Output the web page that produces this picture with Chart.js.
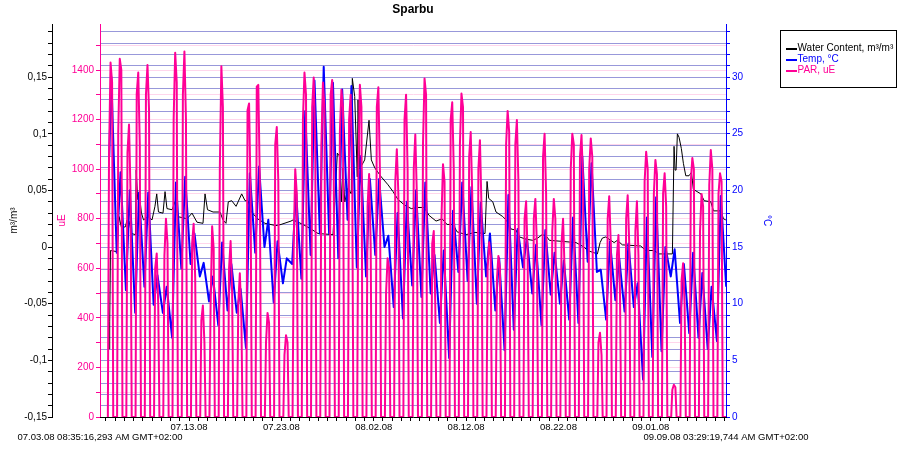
<!DOCTYPE html>
<html>
<head>
<meta charset="utf-8">
<title>Sparbu</title>
<script src="https://cdn.jsdelivr.net/npm/chart.js@4.4.1/dist/chart.umd.min.js"></script>
<style>
  html, body { margin: 0; padding: 0; background: #fff; }
</style>
</head>
<body>
<canvas id="sparbuChart" width="907" height="451"></canvas>
<script>
// x values are days counted from 06.30.08 00:00, so 07.13.08 00:00 = 13
const xStart = 3.3578;   // 07.03.08 08:35:16,293
const xEnd = 71.1454;    // 09.09.08 03:29:19,744
const startLabel = '07.03.08 08:35:16,293 AM GMT+02:00';
const endLabel = '09.09.08 03:29:19,744 AM GMT+02:00';

const xLabelDays = [13, 23, 33, 43, 53, 63];
const xLabels = ['07.13.08', '07.23.08', '08.02.08', '08.12.08', '08.22.08', '09.01.08'];

// one entry per day, 07.04 .. 09.08
const days = [4, 5, 6, 7, 8, 9, 10, 11, 12, 13, 14, 15, 16, 17, 18, 19, 20, 21, 22, 23, 24, 25, 26, 27,
  28, 29, 30, 31, 32, 33, 34, 35, 36, 37, 38, 39, 40, 41, 42, 43, 44, 45, 46, 47, 48, 49, 50, 51,
  52, 53, 54, 55, 56, 57, 58, 59, 60, 61, 62, 63, 64, 65, 66, 67, 68, 69, 70];

// PAR, uE : readings at the hours below (night = 0)
const parHours = [5, 8, 12, 16, 19];
const parAm = [1050, 1150, 1066, 1303, 1300, 600, 650, 1200, 1300, 700, 390, 450, 1000, 600, 460, 1238,
  1333, 300, 1100, 250, 700, 1200, 1250, 1100, 1300, 1150, 1200, 1000, 850, 1250, 500, 950, 1200, 1000,
  1100, 700, 800, 1200, 1100, 1050, 1000, 600, 550, 1100, 1100, 800, 800, 1050, 750, 700, 1000, 1050,
  1000, 300, 800, 650, 800, 750, 950, 900, 900, 110, 550, 950, 750, 936, 900];
const parPeak = [1430, 1445, 1180, 1390, 1420, 660, 800, 1470, 1475, 780, 450, 770, 1415, 710, 580, 1265,
  1340, 420, 1170, 330, 1000, 1390, 1370, 1350, 1360, 1320, 1300, 1340, 980, 1330, 640, 1080, 1300, 1140,
  1366, 750, 1020, 1270, 1305, 1150, 1117, 705, 650, 1235, 1198, 870, 880, 1143, 880, 800, 1143, 1138,
  1124, 340, 891, 734, 895, 870, 1070, 1037, 983, 130, 620, 1045, 900, 1077, 983];
const parPm = [1350, 1400, 900, 1100, 1240, 450, 700, 1350, 1200, 560, 300, 680, 1250, 500, 400, 900,
  950, 380, 950, 300, 900, 1300, 1100, 1250, 1000, 1250, 1000, 1250, 700, 1000, 600, 900, 1000, 900,
  1300, 450, 950, 1000, 1250, 900, 850, 650, 600, 1150, 950, 650, 700, 900, 800, 600, 1100, 950,
  1050, 250, 700, 500, 700, 650, 1000, 980, 850, 120, 450, 1000, 850, 1000, 950];

// Temp, °C : daily maximum (~14:00) and following night minimum (~04:00)
const tempFirst = { x: 4.36, y: 23 };
const tempMax = [30, 21.6, 20, 19.8, 19.8, 12.5, 11.5, 20.7, 21.2, 16.2, 13.6, 12.4, 15.4, 13.5, 11.3, 21.5,
  22.1, 17.4, 15.5, 14, 20, 27, 29.7, 30.9, 29.5, 28.9, 29.2, 23, 21, 21, 16, 18, 19, 20, 20.7, 14.3,
  14.7, 18.2, 20.7, 20.3, 18.9, 16.2, 14, 19.6, 16.6, 15.8, 15.2, 16.5, 14.5, 13.8, 17.6, 23, 22.4, 13,
  15.5, 14, 15.3, 11.8, 17.6, 19.4, 15, 14.8, 13.5, 14.5, 12.7, 11.5, 19.5];
const tempMin = [14.5, 11.2, 9.2, 11.5, 9.9, 9.2, 7.0, 13.1, 13.5, 12.4, 10.2, 8.1, 9.4, 9.2, 6.1, 14.5,
  15, 10.1, 11.8, 13.5, 12.2, 14.3, 16.2, 16.2, 14, 17.4, 13.2, 12.4, 14.3, 15, 9.7, 8.7, 11.6, 10.6,
  10.9, 8.3, 5.2, 12.8, 12, 10, 12.4, 9.4, 5.9, 7.7, 13.2, 10.9, 8.1, 10.8, 10, 8.6, 8.3, 13.7, 12.8,
  8.6, 10.3, 9.3, 9.7, 3.3, 5.3, 5.8, 12.4, 8.3, 7.4, 7, 6, 6.7, 11.5];

// Water Content, m³/m³
const wcDay = [4.37, 4.41, 4.49, 5.20, 5.42, 5.69, 6.12, 6.28, 6.50, 6.77, 7.20, 7.28, 7.44, 7.64, 7.85,
  8.07, 8.56, 8.99, 9.31, 9.50, 9.69, 10.18, 10.40, 10.61, 11.16, 11.48, 11.75, 12.78, 13.32, 13.86,
  14.51, 14.73, 15.00, 15.60, 16.35, 16.68, 17.00, 17.25, 17.62, 18.09, 18.70, 19.06, 19.39, 19.77,
  20.42, 21.23, 22.42, 22.96, 24.04, 24.26, 24.80, 25.34, 26.21, 26.97, 28.59, 28.78, 29.06, 29.32,
  29.49, 29.67, 29.86, 30.22, 30.57, 30.68, 30.94, 31.22, 31.30, 31.48, 32.02, 32.49, 32.74, 33.11,
  33.82, 34.55, 35.09, 35.63, 36.36, 37.07, 37.80, 38.45, 38.99, 39.75, 40.40, 40.94, 41.59, 42.02,
  43.00, 43.97, 45.05, 45.27, 45.45, 45.89, 46.24, 46.97, 47.33, 47.87, 48.41, 48.77, 49.49, 50.22,
  50.76, 51.23, 51.66, 52.02, 53.47, 54.91, 55.78, 56.14, 56.86, 57.22, 57.51, 57.76, 58.13, 58.67,
  59.03, 59.38, 59.92, 61.91, 62.45, 63.36, 63.90, 65.34, 65.52, 65.63, 65.74, 65.88, 66.06, 66.31,
  66.53, 66.79, 67.14, 67.40, 67.61, 68.42, 68.78, 69.50, 69.79, 70.59, 70.87, 71.13];
const wcVal = [-0.09, -0.066, -0.003, -0.004, 0.027, 0.017, 0.018, 0.024, 0.023, 0.012, 0.011, 0.068, 0.042,
  0.045, 0.03, 0.024, 0.027, 0.024, 0.036, 0.047, 0.031, 0.03, 0.049, 0.034, 0.033, 0.04, 0.027, 0.025,
  0.03, 0.022, 0.021, 0.047, 0.033, 0.031, 0.031, 0.024, 0.021, 0.04, 0.041, 0.036, 0.047, 0.041, 0.041,
  0.031, 0.025, 0.021, 0.019, 0.02, 0.023, 0.024, 0.022, 0.02, 0.016, 0.012, 0.011, 0.04, 0.083, 0.08,
  0.04, 0.07, 0.04, 0.052, 0.047, 0.149, 0.133, 0.062, 0.13, 0.069, 0.077, 0.112, 0.077, 0.07,
  0.062, 0.055, 0.049, 0.042, 0.037, 0.034, 0.035, 0.035, 0.028, 0.023, 0.025, 0.02, 0.02, 0.0135,
  0.011, 0.013, 0.012, 0.058, 0.043, 0.04, 0.031, 0.027, 0.024, 0.016, 0.015, 0.009, 0.007, 0.006,
  0.008, 0.011, 0.01, 0.006, 0.005, 0.004, 0.0, -0.003, -0.005, -0.006, 0.004, 0.008, 0.009, 0.006,
  0.004, 0.006, 0.002, 0.001, -0.003, -0.003, -0.006, -0.006, 0.089, 0.068, 0.068, 0.1, 0.097, 0.087,
  0.074, 0.063, 0.063, 0.066, 0.051, 0.047, 0.041, 0.04, 0.032, 0.032, 0.025, 0.024];

const pink = 'rgb(255,0,150)';
const blue = '#0000ff';
const fontFamily = '"Liberation Sans", Arial, sans-serif';
Chart.defaults.font.family = fontFamily;

// build point lists
const parPoints = [];
days.forEach((d, i) => {
  const vals = [0, parAm[i], parPeak[i], parPm[i], 0];
  parHours.forEach((h, j) => parPoints.push({ x: d + h / 24, y: vals[j] }));
});
parPoints.push({ x: xEnd, y: 0 });

const tempPoints = [tempFirst];
days.forEach((d, i) => {
  tempPoints.push({ x: d + 14 / 24, y: tempMax[i] });
  tempPoints.push({ x: d + 1 + 4 / 24, y: tempMin[i] });
});

const wcPoints = wcDay.map((d, i) => ({ x: d, y: wcVal[i] }));

function makeTicks(from, to, step, div) {
  const out = [];
  for (let k = from; k <= to; k += step) out.push({ value: k / div });
  return out;
}

const cornerLabels = {
  id: 'cornerLabels',
  afterDraw(chart) {
    const ctx = chart.ctx;
    const a = chart.chartArea;
    ctx.save();
    ctx.font = '9.5px ' + fontFamily;
    ctx.fillStyle = '#000';
    ctx.textAlign = 'center';
    ctx.textBaseline = 'middle';
    ctx.fillText(startLabel, a.left, 437);
    ctx.fillText(endLabel, a.right, 437);
    ctx.restore();
  }
};

const boxLegend = {
  id: 'boxLegend',
  afterDraw(chart) {
    const ctx = chart.ctx;
    ctx.save();
    ctx.fillStyle = '#fff';
    ctx.fillRect(780.5, 30.5, 116, 57);
    ctx.strokeStyle = '#000';
    ctx.lineWidth = 1;
    ctx.strokeRect(780.5, 30.5, 116, 57);
    ctx.font = '10px ' + fontFamily;
    ctx.textBaseline = 'middle';
    ctx.textAlign = 'left';
    chart.data.datasets.forEach((ds, i) => {
      const y = 49 + i * 11;
      ctx.strokeStyle = ds.borderColor;
      ctx.lineWidth = 2;
      ctx.beginPath();
      ctx.moveTo(786, y);
      ctx.lineTo(797, y);
      ctx.stroke();
      ctx.fillStyle = ds.borderColor;
      ctx.fillText(ds.label, 797.5, y - 0.5);
    });
    ctx.restore();
  }
};

const tickFont = { size: 10, family: fontFamily };

new Chart(document.getElementById('sparbuChart'), {
  type: 'line',
  data: {
    datasets: [
      { label: 'Water Content, m³/m³', data: wcPoints, yAxisID: 'yW', borderColor: '#000',
        borderWidth: 1, pointRadius: 0, borderJoinStyle: 'round', order: 3 },
      { label: 'Temp, °C', data: tempPoints, yAxisID: 'yT', borderColor: blue,
        borderWidth: 2, pointRadius: 0, borderJoinStyle: 'round', order: 2 },
      { label: 'PAR, uE', data: parPoints, yAxisID: 'yP', borderColor: pink,
        borderWidth: 2, pointRadius: 0, borderJoinStyle: 'round', order: 1 }
    ]
  },
  options: {
    responsive: false,
    animation: false,
    devicePixelRatio: 1,
    layout: { padding: { left: 0, right: 131, top: 0, bottom: 0 } },
    plugins: {
      legend: { display: false },
      tooltip: { enabled: false },
      title: {
        display: true,
        text: 'Sparbu',
        fullSize: false,
        color: '#000',
        font: { size: 12, weight: 'bold', family: fontFamily },
        padding: { top: 2, bottom: 7.6 }
      }
    },
    scales: {
      yT: {
        type: 'linear',
        position: 'right',
        min: 0,
        max: 34.68,
        afterBuildTicks: s => { s.ticks = makeTicks(0, 34, 1, 1); },
        afterFit: s => { s.width = 50; },
        grid: { color: 'rgb(152,152,218)', tickColor: blue, tickLength: 4 },
        border: { color: blue },
        ticks: {
          autoSkip: false, padding: 2, color: blue, font: tickFont,
          callback: v => (v % 5 === 0 ? String(v) : '')
        },
        title: { display: true, text: '°C', color: blue, font: { size: 10 }, padding: { top: 3, bottom: 0 } }
      },
      yW: {
        type: 'linear',
        position: 'left',
        weight: 2,
        min: -0.15,
        max: 0.197,
        afterBuildTicks: s => { s.ticks = makeTicks(-15, 19, 1, 100); },
        afterFit: s => { s.width = 52; },
        grid: { drawOnChartArea: false, tickColor: '#000', tickLength: 4 },
        border: { color: '#000' },
        ticks: {
          autoSkip: false, padding: 1, color: '#000', font: tickFont,
          callback: v => {
            const k = Math.round(v * 100);
            return k % 5 === 0 ? String(k / 100).replace('.', ',') : '';
          }
        },
        title: { display: true, text: 'm³/m³', color: '#000', font: { size: 10 }, padding: { top: 8, bottom: 0 } }
      },
      yP: {
        type: 'linear',
        position: 'left',
        weight: 1,
        min: 0,
        max: 1585.6,
        afterBuildTicks: s => { s.ticks = makeTicks(0, 1500, 100, 1); },
        afterFit: s => { s.width = 48; },
        grid: { color: 'rgb(255,214,236)', tickColor: pink, tickLength: 4 },
        border: { color: pink },
        ticks: {
          autoSkip: false, padding: 2, color: pink, font: tickFont,
          callback: v => (v % 200 === 0 ? String(v) : '')
        },
        title: { display: true, text: 'uE', color: pink, font: { size: 10 }, padding: { top: 4, bottom: 0 } }
      },
      x: {
        type: 'linear',
        position: 'bottom',
        min: xStart,
        max: xEnd,
        afterBuildTicks: s => { s.ticks = makeTicks(4, 71, 1, 1); },
        afterFit: s => { s.height = 34; },
        grid: { drawOnChartArea: false, tickColor: '#000', tickLength: 4 },
        border: { color: '#000' },
        ticks: {
          autoSkip: false, maxRotation: 0, padding: 1, color: '#000', font: { size: 9.5, family: fontFamily },
          callback: v => {
            const i = xLabelDays.indexOf(v);
            return i >= 0 ? xLabels[i] : '';
          }
        }
      }
    }
  },
  plugins: [cornerLabels, boxLegend]
});
</script>
</body>
</html>
